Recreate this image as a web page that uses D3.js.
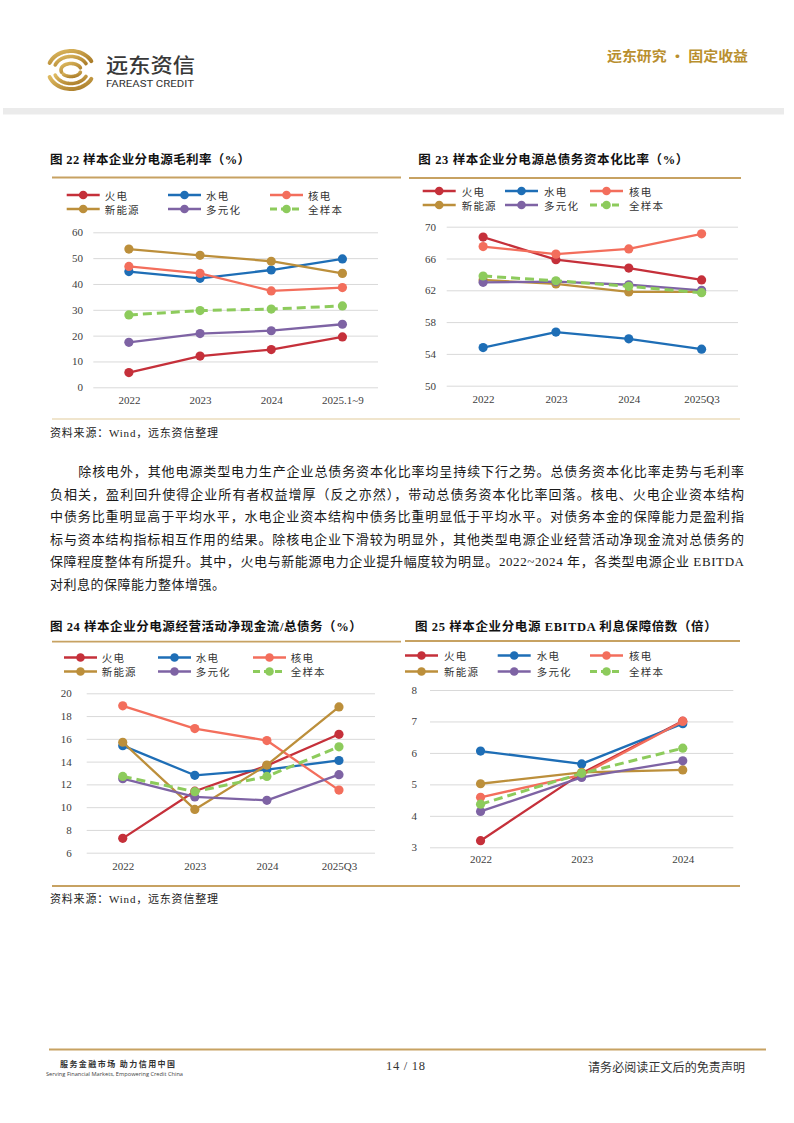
<!DOCTYPE html>
<html><head><meta charset="utf-8">
<script src="https://cdn.jsdelivr.net/npm/d3@7"></script>
<style>
html,body{margin:0;padding:0;background:#fff;}
svg{display:block;}
</style></head>
<body>
<svg id="page" width="794" height="1123"></svg>
<script>
// ---------------- DATA ----------------
const seriesNames = ["火电", "水电", "核电", "新能源", "多元化", "全样本"];

const catsMargin = ["2022", "2023", "2024", "2025.1~9"];
const catsQ3 = ["2022", "2023", "2024", "2025Q3"];
const catsEbitda = ["2022", "2023", "2024"];

const ticksMargin = [0, 10, 20, 30, 40, 50, 60];
const ticksDebtCap = [50, 54, 58, 62, 66, 70];
const ticksCashDebt = [6, 8, 10, 12, 14, 16, 18, 20];
const ticksEbitda = [3, 4, 5, 6, 7, 8];

// 图22 毛利率（%）, rows follow seriesNames
const marginValues = [
  [5.7, 12.1, 14.6, 19.5],
  [44.8, 42.2, 45.4, 49.7],
  [46.8, 44.1, 37.3, 38.6],
  [53.5, 51.1, 48.8, 44.1],
  [17.4, 20.8, 21.9, 24.4],
  [28.0, 29.7, 30.3, 31.5]
];
// 图23 总债务资本化比率（%）
const debtCapValues = [
  [68.7, 65.85, 64.8, 63.3],
  [54.8, 56.75, 55.9, 54.6],
  [67.5, 66.55, 67.2, 69.1],
  [63.3, 62.8, 61.8, 61.8],
  [63.0, 63.1, 62.7, 62.0],
  [63.8, 63.2, 62.5, 61.7]
];
// 图24 经营活动净现金流/总债务（%）
const cashDebtValues = [
  [7.26, 11.4, 13.65, 16.4],
  [15.4, 12.8, 13.3, 14.1],
  [18.9, 16.9, 15.85, 11.5],
  [15.7, 9.8, 13.7, 18.8],
  [12.5, 10.9, 10.6, 12.85],
  [12.7, 11.36, 12.7, 15.3]
];
// 图25 EBITDA 利息保障倍数（倍）
const ebitdaValues = [
  [3.21, 5.35, 7.01],
  [6.06, 5.65, 6.93],
  [4.59, 5.3, 7.0],
  [5.02, 5.38, 5.46],
  [4.14, 5.22, 5.75],
  [4.37, 5.35, 6.15]
];

// ---------------- STYLE ----------------
const seriesColors = ["#C5303A", "#1E6EB6", "#F36E5C", "#BC8F3B", "#7E63A4", "#8DCB5C"];
const seriesDash = [null, null, null, null, null, "9,5"];
const GOLD = "#C7A262";
const CJK = "'Noto Sans CJK SC', sans-serif";
const MIX = "'Liberation Serif', 'Noto Sans CJK SC', serif";

const svg = d3.select("#page");

// ---------------- HEADER ----------------
const defs = svg.append("defs");
const grad = defs.append("linearGradient").attr("id", "goldGrad")
  .attr("x1", "0").attr("y1", "0").attr("x2", "1").attr("y2", "1");
grad.append("stop").attr("offset", "0%").attr("stop-color", "#DDB960");
grad.append("stop").attr("offset", "100%").attr("stop-color", "#A87A27");

const logo = svg.append("g").attr("fill", "none").attr("stroke", "url(#goldGrad)").attr("stroke-linecap", "round");
function arcPath(cx, cy, rx, ry, a0, a1) {
  const p = d3.path();
  const n = 30;
  for (let i = 0; i <= n; i++) {
    const a = (a0 + (a1 - a0) * i / n) * Math.PI / 180;
    const x = cx + rx * Math.cos(a), y = cy - ry * Math.sin(a);
    if (i === 0) p.moveTo(x, y); else p.lineTo(x, y);
  }
  return p.toString();
}
const lcx = 71, lcy = 70;
[[23, 19, 4], [17, 13.5, 3.6]].forEach(([rx, ry, w]) => {
  logo.append("path").attr("d", arcPath(lcx, lcy, rx, ry, 158, 28)).attr("stroke-width", w);
  logo.append("path").attr("d", arcPath(lcx, lcy, rx, ry, 202, 332)).attr("stroke-width", w);
});
logo.append("path").attr("d", arcPath(lcx, lcy, 10, 6.5, 200, 20)).attr("stroke-width", 3.6);
logo.append("path").attr("d", arcPath(lcx, lcy, 10, 6.5, 220, 340)).attr("stroke-width", 3.6);

svg.append("text").attr("x", 106).attr("y", 64.5).attr("dominant-baseline", "central")
  .attr("font-family", CJK).attr("font-size", 20).attr("font-weight", 500).attr("fill", "#383838")
  .attr("textLength", 89).attr("lengthAdjust", "spacingAndGlyphs").text("远东资信");
svg.append("text").attr("x", 106).attr("y", 83.5).attr("dominant-baseline", "central")
  .attr("font-family", "Roboto, sans-serif").attr("font-size", 9.5).attr("fill", "#333")
  .attr("textLength", 88).attr("lengthAdjust", "spacingAndGlyphs").text("FAREAST CREDIT");
svg.append("text").attr("x", 607).attr("y", 55).attr("dominant-baseline", "central")
  .attr("font-family", CJK).attr("font-size", 14).attr("font-weight", 700).attr("fill", "#B98F2E")
  .attr("textLength", 141).attr("lengthAdjust", "spacingAndGlyphs").text("远东研究 • 固定收益");
svg.append("rect").attr("x", 3).attr("y", 108).attr("width", 781).attr("height", 6.5).attr("fill", "#EBEBEB");

// ---------------- CHARTS ----------------
function drawChart(cfg) {
  const g = svg.append("g");
  // title
  g.append("text").attr("x", cfg.titleX).attr("y", cfg.titleY).attr("dominant-baseline", "central")
    .attr("font-family", MIX).attr("font-size", 12.5).attr("font-weight", 700).attr("fill", "#111")
    .attr("textLength", cfg.titleW).attr("lengthAdjust", "spacing").text(cfg.title);
  g.append("line").attr("x1", cfg.rule[0]).attr("x2", cfg.rule[1]).attr("y1", cfg.rule[2]).attr("y2", cfg.rule[2])
    .attr("stroke", GOLD).attr("stroke-width", 1.8);

  const x = d3.scalePoint().domain(cfg.cats).range([cfg.plot.x0, cfg.plot.x1]).padding(0.5);
  const y = d3.scaleLinear().domain([cfg.ticks[0], cfg.ticks[cfg.ticks.length - 1]]).range([cfg.plot.y0, cfg.plot.y1]);

  // grid + y labels via axis
  const yAxis = d3.axisLeft(y).tickValues(cfg.ticks).tickFormat(d3.format("d"))
    .tickSize(-(cfg.plot.x1 - cfg.plot.x0)).tickPadding(cfg.plot.x0 - cfg.yLabelX);
  const ya = g.append("g").attr("transform", `translate(${cfg.plot.x0},0)`).call(yAxis);
  ya.select(".domain").remove();
  ya.selectAll(".tick line").attr("stroke", "#D9D9D9").attr("stroke-width", 1);
  ya.selectAll(".tick text").attr("font-family", "'Liberation Serif', serif").attr("font-size", 11).attr("fill", "#404040");

  const xAxis = d3.axisBottom(x).tickSize(0).tickPadding(0);
  const xa = g.append("g").attr("transform", `translate(0,${cfg.xLabelY})`).call(xAxis);
  xa.select(".domain").remove();
  xa.selectAll(".tick text").attr("dy", null).attr("dominant-baseline", "central")
    .attr("font-family", "'Liberation Serif', serif").attr("font-size", 11).attr("fill", "#404040");

  // series
  const line = d3.line().x((d, i) => x(cfg.cats[i])).y(d => y(d));
  cfg.values.forEach((vals, si) => {
    const sg = g.append("g");
    sg.append("path").attr("d", line(vals)).attr("fill", "none")
      .attr("stroke", seriesColors[si]).attr("stroke-width", seriesDash[si] ? 3 : 2.3)
      .attr("stroke-dasharray", seriesDash[si]).attr("stroke-linejoin", "round");
    sg.selectAll("circle").data(vals).join("circle")
      .attr("cx", (d, i) => x(cfg.cats[i])).attr("cy", d => y(d)).attr("r", 4.6)
      .attr("fill", seriesColors[si]);
  });

  // legend
  seriesNames.forEach((name, si) => {
    const row = Math.floor(si / 3), col = si % 3;
    const lx = cfg.legendCols[col], ly = cfg.legendRows[row];
    const lg = g.append("g");
    lg.append("line").attr("x1", lx).attr("x2", lx + 33).attr("y1", ly).attr("y2", ly)
      .attr("stroke", seriesColors[si]).attr("stroke-width", seriesDash[si] ? 3 : 2.5)
      .attr("stroke-dasharray", seriesDash[si] ? "7,4" : null);
    lg.append("circle").attr("cx", lx + 16.5).attr("cy", ly).attr("r", 4.3).attr("fill", seriesColors[si]);
    lg.append("text").attr("x", lx + cfg.legendTextDx).attr("y", ly).attr("dominant-baseline", "central")
      .attr("font-family", CJK).attr("font-size", 10.5).attr("letter-spacing", 1.2).attr("fill", "#333").text(name);
  });
}

drawChart({
  title: "图 22 样本企业分电源毛利率（%）", titleX: 50, titleY: 160, titleW: 200,
  rule: [52, 401, 177.5], legendRows: [195, 209], legendCols: [66.7, 168, 270], legendTextDx: 38,
  plot: { x0: 93.3, x1: 378, y0: 387.3, y1: 232.3 }, yLabelX: 83, xLabelY: 400,
  cats: catsMargin, ticks: ticksMargin, values: marginValues
});
drawChart({
  title: "图 23  样本企业分电源总债务资本化比率（%）", titleX: 418.3, titleY: 160, titleW: 270,
  rule: [409, 741, 178], legendRows: [191, 205], legendCols: [422.7, 505, 590], legendTextDx: 39,
  plot: { x0: 446.7, x1: 738, y0: 385.7, y1: 226.7 }, yLabelX: 436, xLabelY: 399,
  cats: catsQ3, ticks: ticksDebtCap, values: debtCapValues
});
drawChart({
  title: "图 24 样本企业分电源经营活动净现金流/总债务（%）", titleX: 50, titleY: 626.7, titleW: 311.7,
  rule: [52, 401, 641.7], legendRows: [657.5, 671.5], legendCols: [64, 158, 253], legendTextDx: 37.7,
  plot: { x0: 86.7, x1: 375, y0: 852.7, y1: 693.3 }, yLabelX: 71.7, xLabelY: 866,
  cats: catsQ3, ticks: ticksCashDebt, values: cashDebtValues
});
drawChart({
  title: "图 25  样本企业分电源 EBITDA 利息保障倍数（倍）", titleX: 415, titleY: 626.7, titleW: 301.7,
  rule: [405, 740, 641], legendRows: [655.5, 671.5], legendCols: [405, 497.7, 590], legendTextDx: 39,
  plot: { x0: 430, x1: 733.3, y0: 847.3, y1: 690 }, yLabelX: 417, xLabelY: 859.3,
  cats: catsEbitda, ticks: ticksEbitda, values: ebitdaValues
});

// section separators & sources
[[419, 1.2, "#E2CC9C"], [886, 2, GOLD]].forEach(([yy, w, c]) => {
  svg.append("line").attr("x1", 52).attr("x2", 740).attr("y1", yy).attr("y2", yy).attr("stroke", c).attr("stroke-width", w);
});
[433, 899].forEach(yy => {
  svg.append("text").attr("x", 50).attr("y", yy).attr("dominant-baseline", "central")
    .attr("font-family", MIX).attr("font-size", 11).attr("fill", "#222")
    .attr("textLength", 168).attr("lengthAdjust", "spacing").text("资料来源：Wind，远东资信整理");
});

// ---------------- BODY TEXT ----------------
const bodyLines = [
  "除核电外，其他电源类型电力生产企业总债务资本化比率均呈持续下行之势。总债务资本化比率走势与毛利率",
  "负相关，盈利回升使得企业所有者权益增厚（反之亦然），带动总债务资本化比率回落。核电、火电企业资本结构",
  "中债务比重明显高于平均水平，水电企业资本结构中债务比重明显低于平均水平。对债务本金的保障能力是盈利指",
  "标与资本结构指标相互作用的结果。除核电企业下滑较为明显外，其他类型电源企业经营活动净现金流对总债务的",
  "保障程度整体有所提升。其中，火电与新能源电力企业提升幅度较为明显。2022~2024 年，各类型电源企业 EBITDA",
  "对利息的保障能力整体增强。"
];
const bodyY = [471.5, 494, 516.5, 539, 561.5, 584];
bodyLines.forEach((t, i) => {
  const x0 = i === 0 ? 78.3 : 50;
  const tx = svg.append("text").attr("x", x0).attr("y", bodyY[i]).attr("dominant-baseline", "central")
    .attr("font-family", MIX).attr("font-size", 13).attr("fill", "#1a1a1a").text(t);
  if (i < bodyLines.length - 1) tx.attr("textLength", 744 - x0).attr("lengthAdjust", "spacing");
  else tx.attr("letter-spacing", 0.5);
});

// ---------------- FOOTER ----------------
svg.append("line").attr("x1", 49).attr("x2", 766).attr("y1", 1049.5).attr("y2", 1049.5).attr("stroke", GOLD).attr("stroke-width", 2);
svg.append("text").attr("x", 60).attr("y", 1063.5).attr("dominant-baseline", "central")
  .attr("font-family", CJK).attr("font-size", 8).attr("font-weight", 700).attr("fill", "#333")
  .attr("textLength", 115).attr("lengthAdjust", "spacing").text("服务金融市场 助力信用中国");
svg.append("text").attr("x", 46).attr("y", 1074).attr("dominant-baseline", "central")
  .attr("font-family", "'Open Sans', sans-serif").attr("font-size", 5.5).attr("fill", "#444")
  .attr("textLength", 137).attr("lengthAdjust", "spacingAndGlyphs").text("Serving Financial Markets, Empowering Credit China");
svg.append("text").attr("x", 386).attr("y", 1066).attr("dominant-baseline", "central")
  .attr("font-family", "'Liberation Serif', serif").attr("font-size", 12.5).attr("fill", "#333")
  .attr("textLength", 39).attr("lengthAdjust", "spacing").text("14 / 18");
svg.append("text").attr("x", 588).attr("y", 1066).attr("dominant-baseline", "central")
  .attr("font-family", CJK).attr("font-size", 12).attr("fill", "#333")
  .attr("textLength", 157).attr("lengthAdjust", "spacing").text("请务必阅读正文后的免责声明");
</script>
</body></html>
